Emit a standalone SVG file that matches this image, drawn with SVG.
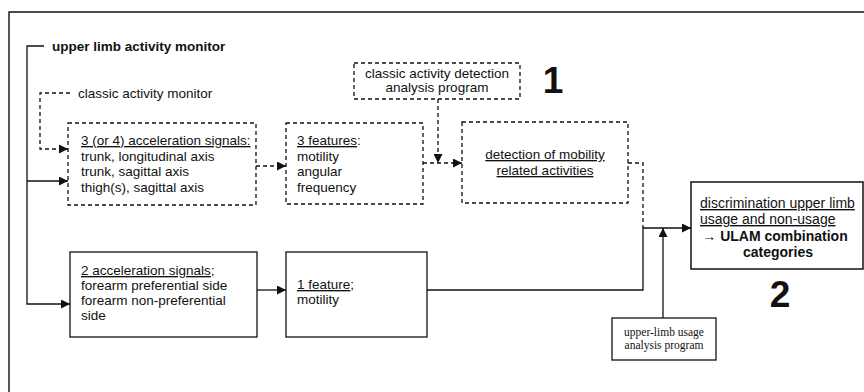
<svg xmlns="http://www.w3.org/2000/svg" width="864" height="392" viewBox="0 0 864 392">
  <style>
    .frame { fill: none; stroke: #111; stroke-width: 1.4; }
    .box { fill: #fff; stroke: #111; stroke-width: 1.3; }
    .dbox { fill: #fff; stroke: #111; stroke-width: 1.3; stroke-dasharray: 4 3; }
    .wire { fill: none; stroke: #111; stroke-width: 1.3; }
    .dwire { fill: none; stroke: #111; stroke-width: 1.3; stroke-dasharray: 4 3; }
    text { font-family: "Liberation Sans", Arial, sans-serif; font-size: 13.5px; fill: #111; }
    .b { font-weight: bold; }
    .u { text-decoration: underline; }
    .big { font-size: 14px; }
    .serif { font-family: "Liberation Serif", "Times New Roman", serif; font-size: 11.5px; }
    .num { font-weight: bold; font-size: 37px; }
  </style>
  <defs>
    <marker id="head" viewBox="0 0 10 10" refX="10" refY="5" markerWidth="9" markerHeight="9" markerUnits="userSpaceOnUse" orient="auto">
      <path d="M0,0 L10,5 L0,10 Z" fill="#111"/>
    </marker>
  </defs>

  <!-- page frame (top and left edges) -->
  <path class="frame" d="M9,392 L9,12 L864,12"/>

  <!-- connectors -->
  <g id="connectors">
    <path class="wire" d="M44,46 L27,46 L27,304 L70,304" marker-end="url(#head)"/>
    <path class="wire" d="M27,181 L68,181" marker-end="url(#head)"/>
    <path class="dwire" d="M70,93 L40,93 L40,149 L68,149" marker-end="url(#head)"/>
    <path class="dwire" d="M256,166 L286,166" marker-end="url(#head)"/>
    <path class="dwire" d="M423,163 L462,163" marker-end="url(#head)"/>
    <path class="dwire" d="M438,99 L438,163" marker-end="url(#head)"/>
    <path class="dwire" d="M628,163 L643,163 L643,228"/>
    <path class="wire" d="M257,290 L286,290" marker-end="url(#head)"/>
    <path class="wire" d="M427,290 L643,290 L643,228 L691,228" marker-end="url(#head)"/>
    <path class="wire" d="M663,318 L663,228" marker-end="url(#head)"/>
  </g>

  <!-- monitor labels -->
  <g id="ulam-label">
    <text class="b" x="52" y="51">upper limb activity monitor</text>
  </g>
  <g id="classic-label">
    <text x="78" y="98">classic activity monitor</text>
  </g>

  <!-- classic branch -->
  <g id="classic-signals">
    <rect class="dbox" x="68" y="123" width="188" height="82"/>
    <text x="81" y="145"><tspan class="u">3 (or 4) acceleration signals:</tspan></text>
    <text x="81" y="160.5">trunk, longitudinal axis</text>
    <text x="81" y="176">trunk, sagittal axis</text>
    <text x="81" y="191.5">thigh(s), sagittal axis</text>
  </g>
  <g id="classic-features">
    <rect class="dbox" x="286" y="123" width="137" height="81"/>
    <text x="297" y="145"><tspan class="u">3 features</tspan>:</text>
    <text x="297" y="160.5">motility</text>
    <text x="297" y="176">angular</text>
    <text x="297" y="191.5">frequency</text>
  </g>
  <g id="detection-program">
    <rect class="dbox" x="354" y="63" width="166" height="36"/>
    <text x="437" y="78" text-anchor="middle">classic activity detection</text>
    <text x="437" y="92" text-anchor="middle">analysis program</text>
  </g>
  <g id="label-1">
    <text class="num" x="553" y="93" text-anchor="middle">1</text>
  </g>
  <g id="mobility-detection">
    <rect class="dbox" x="462" y="122" width="166" height="81"/>
    <text class="u" x="545" y="159" text-anchor="middle">detection of mobility</text>
    <text class="u" x="545" y="175" text-anchor="middle">related activities</text>
  </g>

  <!-- upper limb branch -->
  <g id="forearm-signals">
    <rect class="box" x="70" y="252" width="187" height="85"/>
    <text x="81" y="275"><tspan class="u">2 acceleration signals</tspan>;</text>
    <text x="81" y="290">forearm preferential side</text>
    <text x="81" y="305">forearm non-preferential</text>
    <text x="81" y="320">side</text>
  </g>
  <g id="forearm-feature">
    <rect class="box" x="286" y="252" width="141" height="85"/>
    <text x="297" y="289"><tspan class="u">1 feature</tspan>;</text>
    <text x="297" y="304">motility</text>
  </g>
  <g id="usage-program">
    <rect class="box" x="612" y="318" width="104" height="42"/>
    <text class="serif" x="664" y="336" text-anchor="middle">upper-limb usage</text>
    <text class="serif" x="664" y="349" text-anchor="middle">analysis program</text>
  </g>

  <!-- result -->
  <g id="discrimination">
    <rect class="box" x="691" y="182" width="172" height="87" style="stroke-width:1.5"/>
    <text class="u big" x="700" y="208">discrimination upper limb</text>
    <text class="u big" x="700" y="224">usage and non-usage</text>
    <text class="big" x="775" y="241" text-anchor="middle">→ <tspan class="b">ULAM combination</tspan></text>
    <text class="b big" x="778" y="257" text-anchor="middle">categories</text>
  </g>
  <g id="label-2">
    <text class="num" x="780" y="307" text-anchor="middle">2</text>
  </g>
</svg>
